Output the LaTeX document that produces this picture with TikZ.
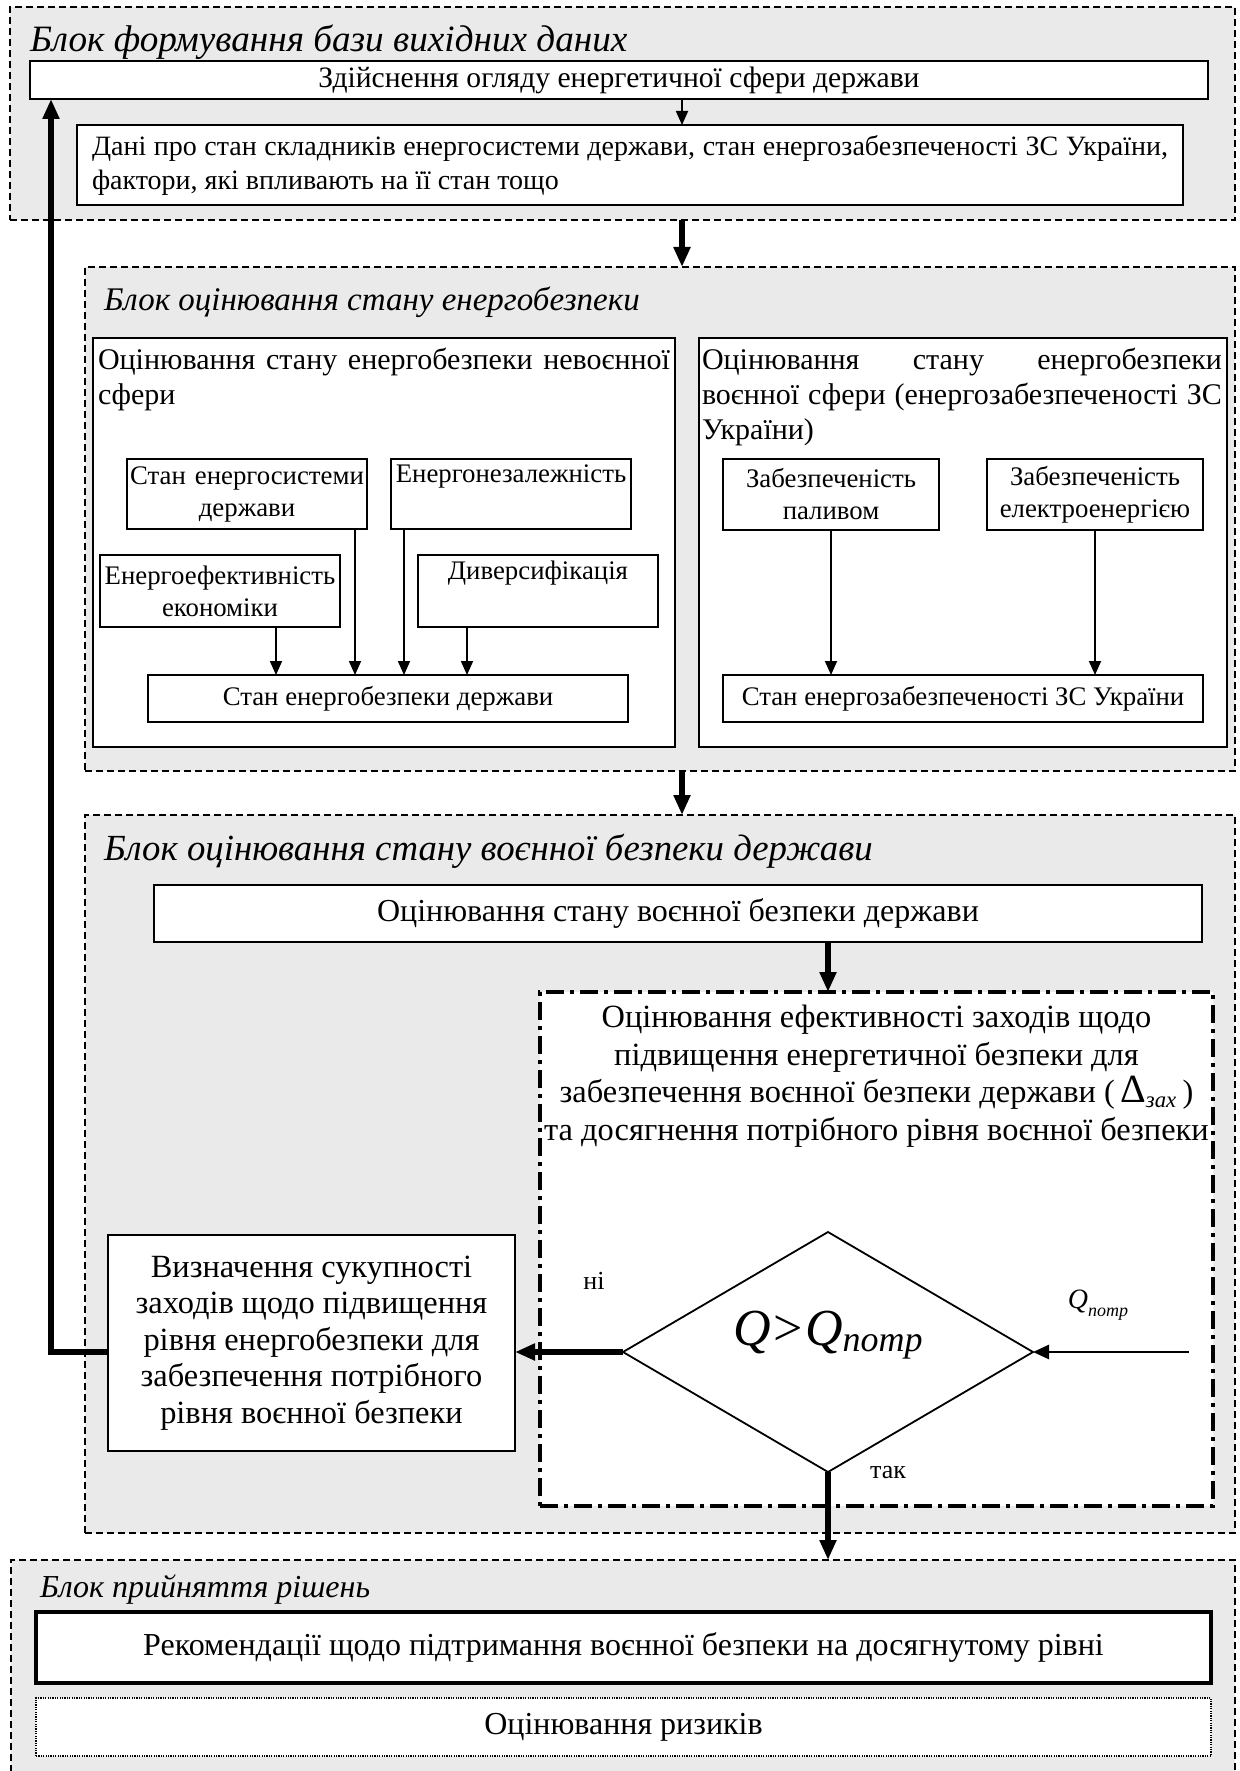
\documentclass[tikz,border=0pt]{standalone}
\usepackage{fontspec}
\setmainfont{Liberation Serif}
\usepackage{tikz}
\usetikzlibrary{positioning,calc,fit
  ,shapes.geometric
  ,arrows.meta}
\definecolor{blockgray}{RGB}{234,234,234}
\pgfdeclarelayer{background}
\pgfsetlayers{background,main}
\newcommand\fsz[2]{\fontsize{#1}{#2}\selectfont}
\newcommand\qpotr[2]{\textit{Q}\raisebox{-#2}{\fontsize{#1}{#1}\selectfont\itshape потр}}
\tikzset{
  diagrampic/.style={
    x=0.5pt
    ,y=-0.5pt
    ,inner sep=0pt
    ,outer sep=0pt
  }
  ,blockframe/.style={draw=black, fill=blockgray, line width=0.9pt
    ,dash pattern=on 3.5pt off 2pt}
  ,blocktitle/.style={anchor=base west, font=\fsz{18.6}{20}\itshape}
  ,whitebox/.style={draw=black, fill=white, line width=0.9pt, align=center}
  ,subbox/.style={whitebox, font=\fsz{13.4}{16}}
  ,headtext/.style={anchor=north west, align=justify, font=\fsz{15}{17.5}
    ,inner xsep=2.5pt, inner ysep=5pt}
  ,evalbox/.style={draw=black, fill=white, line width=1.8pt
    ,dash pattern=on 9pt off 3pt on 2pt off 3pt}
  ,decision/.style={diamond, aspect=1.7, draw=black, fill=white, line width=0.9pt
    ,minimum width=205pt, minimum height=120pt, font=\fsz{26}{28}
    ,text height=5pt, text depth=12pt}
  ,riskbox/.style={whitebox, dash pattern=on 0.6pt off 0.6pt}
  ,thinarrow/.style={line width=0.9pt, -{Triangle[length=7pt,width=6pt]}}
  ,inarrow/.style={line width=1.4pt, -{Triangle[length=8pt,width=7pt]}}
  ,thickarrow/.style={line width=2.6pt, -{Triangle[length=10pt,width=8pt]}}
  ,answer/.style={font=\fsz{13}{15}}
}

\begin{document}
\begin{tikzpicture}[diagrampic]
  \useasboundingbox (0,0) rectangle (1239,1771);
  % guide lines for the vertical connectors
  \coordinate (flowx) at (682,0);
  \coordinate (backx) at (51,0);
  \coordinate (qinx) at (1189,0);
  \coordinate (effout) at (276,0);
  \coordinate (gridout) at (355,0);
  \coordinate (indout) at (404,0);
  \coordinate (divout) at (467,0);

  % source data
  \node[blocktitle] (basetitle) at (30,52) {Блок формування бази вихідних даних};
  \node[whitebox, minimum width=589pt, minimum height=19pt, font=\fsz{14.8}{17}] (review)
    at (619,80) {Здійснення огляду енергетичної сфери держави};
  \node[whitebox, minimum width=553pt, minimum height=40pt, text width=538pt, align=justify
    ,font=\fsz{14}{17}] (data) at (630,165)
    {Дані про стан складників енергосистеми держави, стан енергозабезпеченості ЗС України,\linebreak
     фактори, які впливають на її стан тощо};

  % energy security
  \node[blocktitle, font=\fsz{16.5}{18}\itshape] (energytitle) at (104,310)
    {Блок оцінювання стану енергобезпеки};
  \node[whitebox, fit={(93,338) (675,747)}] (civilframe) {};
  \node[headtext, text width=286pt] (civiltext) at (civilframe.north west)
    {Оцінювання стану енергобезпеки невоєнної\linebreak сфери};
  \node[subbox, minimum width=120pt, minimum height=35pt, text width=120pt] (gridstate)
    at (247,494) {Стан енергосистеми\\держави};
  \node[subbox, minimum width=120pt, minimum height=35pt, text width=120pt] (independence)
    at (511,494) {Енергонезалежність\\\strut};
  \node[subbox, minimum width=120pt, minimum height=36pt, text width=120pt] (efficiency)
    at (220,591) {Енергоефективність\\економіки};
  \node[subbox, minimum width=120pt, minimum height=36pt, text width=120pt] (diversity)
    at (538,591) {Диверсифікація\\\strut};
  \node[subbox, minimum width=240pt, minimum height=23.5pt] (energystate)
    at (388,698.5) {Стан енергобезпеки держави};

  \node[whitebox, fit={(699,338) (1227,747)}] (armyframe) {};
  \node[headtext, text width=260pt, inner xsep=1.5pt] (armytext) at (armyframe.north west)
    {Оцінювання стану енергобезпеки\linebreak воєнної сфери (енергозабезпеченості ЗС\linebreak України)};
  \node[subbox, minimum width=108pt, minimum height=35.5pt, text width=108pt] (fuel)
    at (831,494.5) {Забезпеченість\\паливом};
  \node[subbox, minimum width=108pt, minimum height=35.5pt, text width=108pt] (power)
    at (1095,494.5) {Забезпеченість\\електроенергією};
  \node[subbox, minimum width=240pt, minimum height=23.5pt] (supplystate)
    at (963,698.5) {Стан енергозабезпеченості ЗС України};

  % military security
  \node[blocktitle, font=\fsz{18.4}{20}\itshape] (militarytitle) at (104,860)
    {Блок оцінювання стану воєнної безпеки держави};
  \node[whitebox, minimum width=524pt, minimum height=28.5pt, line width=1.1pt
    ,font=\fsz{16}{18.5}] (milstate) at (678,913.5)
    {Оцінювання стану воєнної безпеки держави};
  \node[evalbox, fit={(540,992) (1213,1506)}] (evalframe) {};
  \node[anchor=north, align=center, font=\fsz{16.2}{18.8}, inner ysep=6.5pt] (evaltext)
    at (evalframe.north)
    {Оцінювання ефективності заходів щодо\\
     підвищення енергетичної безпеки для\\
     забезпечення воєнної безпеки держави (\,{\fsz{20}{20}Δ}\textsubscript{\textit{зах}}\,)\\
     та досягнення потрібного рівня воєнної безпеки};
  \node[decision] (check) at (828,1352)
    {\textit{Q}\kern1.5pt>\kern1pt\qpotr{18pt}{3pt}};
  \node[whitebox, minimum width=203.5pt, minimum height=108pt, font=\fsz{16.2}{18.3}] (measures)
    at (311.5,1343)
    {Визначення сукупності\\ заходів щодо підвищення\\ рівня енергобезпеки для\\
     забезпечення потрібного\\ рівня воєнної безпеки};
  \node[answer] (no) at (594,1281) {ні};
  \node[answer] (yes) at (888,1473) {так};
  \node[font=\fsz{14}{16}] (qlabel) at (1098,1305) {\qpotr{9pt}{0.3em}};

  % decisions
  \node[blocktitle, font=\fsz{16}{18}\itshape] (decisiontitle) at (40,1597)
    {Блок прийняття рішень};
  \node[whitebox, minimum width=587.5pt, minimum height=35.5pt, line width=1.8pt
    ,font=\fsz{16}{18.5}] (advice) at (623.5,1647.5)
    {Рекомендації щодо підтримання воєнної безпеки на досягнутому рівні};
  \node[riskbox, minimum width=587.5pt, minimum height=29pt, font=\fsz{16}{18.5}] (risks)
    at (623.5,1727) {Оцінювання ризиків};

  \begin{pgfonlayer}{background}
    \node[blockframe, fit={(10,7) (1235,220)}] (baseblock) {};
    \node[blockframe, fit={(85,267) (1235,771)}] (energyblock) {};
    \node[blockframe, fit={(85,815) (1235,1533)}] (militaryblock) {};
    \node[blockframe, fit={(11,1560) (1235,1800)}] (decisionblock) {};
  \end{pgfonlayer}

  % connectors
  \draw[thinarrow] (flowx |- review.south) -- (flowx |- data.north);
  \draw[thickarrow] (flowx |- baseblock.south) -- (flowx |- energyblock.north);
  \draw[thinarrow] (effout |- efficiency.south) -- (effout |- energystate.north);
  \draw[thinarrow] (gridout |- gridstate.south) -- (gridout |- energystate.north);
  \draw[thinarrow] (indout |- independence.south) -- (indout |- energystate.north);
  \draw[thinarrow] (divout |- diversity.south) -- (divout |- energystate.north);
  \draw[thinarrow] (fuel.south) -- (fuel.south |- supplystate.north);
  \draw[thinarrow] (power.south) -- (power.south |- supplystate.north);
  \draw[thickarrow] (flowx |- energyblock.south) -- (flowx |- militaryblock.north);
  \draw[thickarrow] (milstate.south -| check) -- (check |- evalframe.north);
  \draw[thickarrow] (check.west) -- (check.west -| measures.east);
  \draw[inarrow] (qinx |- check.east) -- (check.east);
  \draw[thickarrow] (check.south) -- (check.south |- decisionblock.north);
  \draw[thickarrow] (measures.west |- check.west) -- (backx |- check.west)
    -- (backx |- review.south);
\end{tikzpicture}
\end{document}
